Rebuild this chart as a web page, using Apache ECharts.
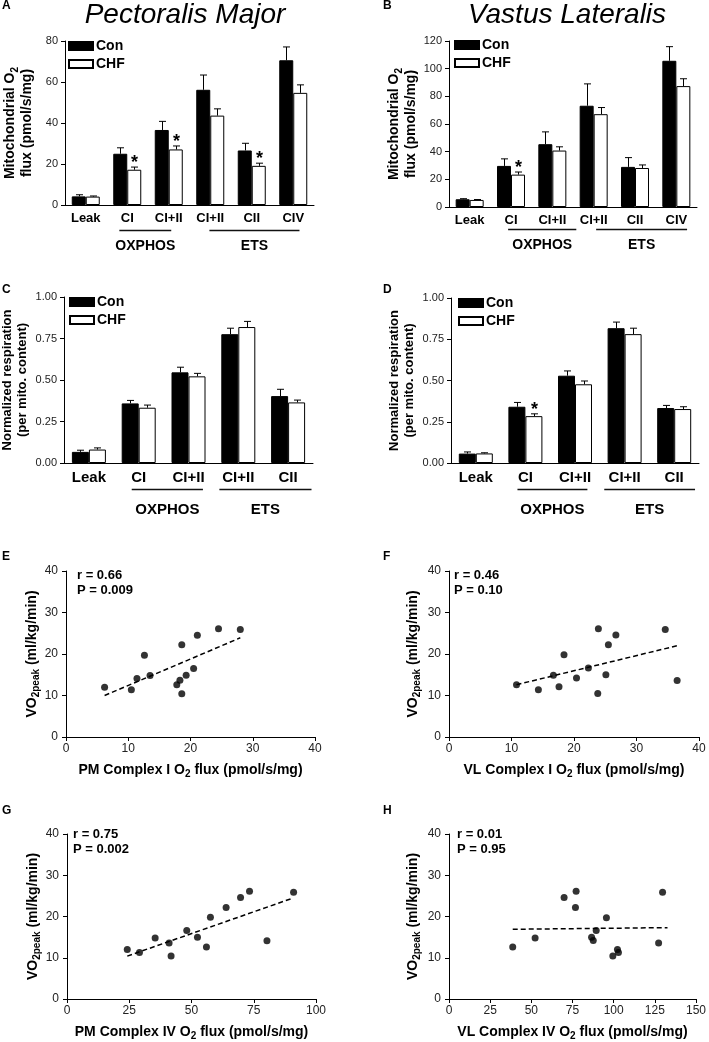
<!DOCTYPE html>
<html>
<head>
<meta charset="utf-8">
<script src="https://cdn.jsdelivr.net/npm/echarts@6/dist/echarts.min.js"></script>
<style>html,body{margin:0;padding:0;background:#fff;}#c{width:709px;height:1042px;}</style>
</head>
<body>
<div id="c"></div>
<script>
// ---------- DATA ----------
const catsAB = ['Leak', 'CI', 'CI+II', 'CI+II', 'CII', 'CIV'];
const catsCD = ['Leak', 'CI', 'CI+II', 'CI+II', 'CII'];

// Panel A: Pectoralis Major, pmol/s/mg
const conA = [4.2, 25.0, 36.6, 56.2, 26.6, 70.6];
const conASem = [0.8, 2.9, 4.2, 7.2, 3.5, 6.5];
const chfA = [4.1, 17.2, 27.1, 43.6, 19.1, 54.7];
const chfASem = [0.3, 1.3, 1.7, 3.3, 1.3, 3.9];
const sigA = [0, 1, 1, 0, 1, 0];

// Panel B: Vastus Lateralis, pmol/s/mg
const conB = [5.6, 29.7, 45.4, 73.2, 29.0, 105.7];
const conBSem = [0.4, 5.1, 8.9, 15.8, 6.7, 10.2];
const chfB = [5.1, 23.4, 40.8, 67.1, 28.2, 87.4];
const chfBSem = [0.3, 1.9, 2.7, 4.8, 2.2, 5.3];
const sigB = [0, 1, 0, 0, 0, 0];

// Panel C: normalized, PM
const conC = [0.067, 0.359, 0.546, 0.776, 0.403];
const conCSem = [0.010, 0.018, 0.031, 0.036, 0.041];
const chfC = [0.081, 0.333, 0.522, 0.819, 0.365];
const chfCSem = [0.010, 0.016, 0.018, 0.034, 0.014];
const sigC = [0, 0, 0, 0, 0];

// Panel D: normalized, VL
const conD = [0.057, 0.341, 0.529, 0.817, 0.333];
const conDSem = [0.010, 0.026, 0.029, 0.037, 0.016];
const chfD = [0.058, 0.284, 0.477, 0.781, 0.327];
const chfDSem = [0.004, 0.014, 0.020, 0.036, 0.014];
const sigD = [0, 1, 0, 0, 0];

// group brackets (in category-index units)
const groupNames = ['OXPHOS', 'ETS'];
const spansA = [[0.81, 2.06], [2.98, 5.15]];
const spansB = [[0.93, 2.58], [3.06, 5.26]];
const spansC = [[0.86, 2.29], [2.62, 4.47]];
const spansD = [[0.84, 2.25], [2.59, 4.42]];

// Scatter panels: [x, VO2peak]
const ptsE = [[6.2,12.0],[10.5,11.4],[11.4,14.1],[12.6,19.7],[13.5,14.8],[17.8,12.6],[18.3,13.7],[18.6,22.2],[18.6,10.4],[19.3,14.9],[20.5,16.5],[21.1,24.5],[24.5,26.1],[28.0,25.9]];
const trendE = [[6.2,10.0],[28.0,23.9]];
const ptsF = [[10.8,12.6],[14.3,11.4],[16.7,14.9],[17.6,12.1],[18.4,19.8],[20.4,14.2],[22.3,16.6],[23.9,26.1],[23.8,10.5],[25.1,15.0],[25.5,22.2],[26.7,24.6],[34.6,25.9],[36.5,13.6]];
const trendF = [[10.8,12.6],[36.8,22.1]];
const ptsG = [[24.2,12.0],[29.1,11.3],[35.4,14.8],[41.0,13.6],[41.8,10.4],[48.1,16.6],[52.4,15.0],[56.0,12.6],[57.6,19.8],[63.9,22.2],[69.7,24.6],[73.3,26.1],[80.3,14.1],[91.0,25.9]];
const trendG = [[24.2,10.4],[90.9,24.5]];
const ptsH = [[38.7,12.6],[52.3,14.8],[69.9,24.6],[77.2,26.1],[76.8,22.2],[86.6,15.0],[87.6,14.2],[89.4,16.6],[95.6,19.7],[99.5,10.4],[102.3,12.0],[102.9,11.3],[127.3,13.6],[129.7,25.9]];
const trendH = [[38.7,16.9],[132.7,17.3]];

const statsE = ['r = 0.66', 'P = 0.009'];
const statsF = ['r = 0.46', 'P = 0.10'];
const statsG = ['r = 0.75', 'P = 0.002'];
const statsH = ['r = 0.01', 'P = 0.95'];

// ---------- STYLE / LAYOUT ----------
const F = '"Liberation Sans", Arial, Helvetica, sans-serif';

function rich(fs, lh) {
  return {
    b: { fontFamily: F, fontSize: fs, fontWeight: 'bold', color: '#000', lineHeight: lh || fs + 2, verticalAlign: 'top' },
    s: { fontFamily: F, fontSize: Math.round(fs * 0.7), fontWeight: 'bold', color: '#000',
         lineHeight: Math.round(fs * 0.7), padding: [Math.round(fs * 0.6), 0, 0, 0], verticalAlign: 'bottom' }
  };
}

const grids = [
  { left: 65, top: 41, width: 249, height: 164 },   // A
  { left: 449, top: 41, width: 248, height: 166 },  // B
  { left: 64, top: 297, width: 249, height: 166 },  // C
  { left: 451, top: 298, width: 248, height: 165 }, // D
  { left: 66, top: 571, width: 249, height: 166 },  // E
  { left: 449, top: 571, width: 250, height: 166 }, // F
  { left: 67, top: 834, width: 249, height: 166 },  // G
  { left: 449, top: 834, width: 250, height: 166 }  // H
];

const axLine = { show: true, lineStyle: { color: '#000', width: 1 } };
const axTick = { show: true, length: 4, lineStyle: { color: '#000', width: 1 } };

function catAxis(idx, cats, fs) {
  return { type: 'category', gridIndex: idx, data: cats, axisLine: axLine, axisTick: { show: false },
    axisLabel: { interval: 0, fontFamily: F, fontSize: fs, fontWeight: 'bold', color: '#000', margin: 7 },
    splitLine: { show: false } };
}
function valAxisY(idx, max, interval, fmt, name, nameFs, gap, lh) {
  return { type: 'value', gridIndex: idx, min: 0, max: max, interval: interval,
    axisLine: axLine, axisTick: axTick,
    axisLabel: { fontFamily: F, fontSize: 11, color: '#222', margin: 7, formatter: fmt },
    splitLine: { show: false },
    name: name, nameLocation: 'middle', nameRotate: 90, nameGap: gap,
    nameTextStyle: { rich: rich(nameFs, lh), align: 'center' } };
}
function valAxisX(idx, max, interval, name) {
  return { type: 'value', gridIndex: idx, min: 0, max: max, interval: interval,
    axisLine: axLine, axisTick: axTick,
    axisLabel: { fontFamily: F, fontSize: 12, color: '#222', margin: 6 },
    splitLine: { show: false },
    name: name, nameLocation: 'middle', nameGap: 26,
    nameTextStyle: { rich: rich(14) } };
}

const xAxes = [], yAxes = [], series = [];

function barPanel(idx, cats, con, conSem, chf, chfSem, sig, bw, spans, drop, tgap, gfs) {
  series.push({ type: 'bar', name: 'Con', xAxisIndex: idx, yAxisIndex: idx, data: con, barWidth: bw, barGap: '0%',
    itemStyle: { color: '#000', borderColor: '#000', borderWidth: 1 }, silent: true });
  series.push({ type: 'bar', name: 'CHF', xAxisIndex: idx, yAxisIndex: idx, data: chf, barWidth: bw, barGap: '0%',
    itemStyle: { color: '#fff', borderColor: '#000', borderWidth: 1 }, silent: true });
  [[con, conSem, null, -1], [chf, chfSem, sig, 1]].forEach(([vals, sems, sg, side]) => {
    series.push({ type: 'custom', xAxisIndex: idx, yAxisIndex: idx, z: 5, silent: true,
      data: vals.map((v, i) => [i, v, v + sems[i], sg ? sg[i] : 0]),
      renderItem: function (params, api) {
        const top = api.coord([api.value(0), api.value(2)]);
        const base = api.coord([api.value(0), api.value(1)]);
        const x = Math.round(top[0] + side * bw / 2) + 0.5;
        const ch = [
          { type: 'line', shape: { x1: x, y1: base[1], x2: x, y2: top[1] }, style: { stroke: '#000', lineWidth: 1 } },
          { type: 'line', shape: { x1: x - 3.5, y1: top[1], x2: x + 3.5, y2: top[1] }, style: { stroke: '#000', lineWidth: 1 } }
        ];
        if (api.value(3)) {
          ch.push({ type: 'text', x: x, y: top[1] - 4,
            style: { text: '*', fontFamily: F, fontSize: 18, fontWeight: 'bold', fill: '#000',
              align: 'center', verticalAlign: 'middle', textAlign: 'center', textVerticalAlign: 'middle' } });
        }
        return { type: 'group', children: ch };
      } });
  });
  series.push({ type: 'custom', xAxisIndex: idx, yAxisIndex: idx, clip: false, silent: true, z: 5,
    data: groupNames.map((n, k) => [0, 0]),
    renderItem: function (params, api) {
      const k = params.dataIndex;
      const c0 = api.coord([0, 0]);
      const band = api.size([1, 0])[0];
      const x1 = c0[0] + spans[k][0] * band, x2 = c0[0] + spans[k][1] * band;
      const y = Math.round(c0[1] + drop) + 0.5;
      return { type: 'group', children: [
        { type: 'line', shape: { x1: x1, y1: y, x2: x2, y2: y }, style: { stroke: '#111', lineWidth: 1.5 } },
        { type: 'text', x: (x1 + x2) / 2, y: y + tgap,
          style: { text: groupNames[k], fontFamily: F, fontSize: gfs, fontWeight: 'bold', fill: '#000',
            align: 'center', verticalAlign: 'middle', textAlign: 'center', textVerticalAlign: 'middle' } }
      ] };
    } });
}

function scatterPanel(idx, pts, trend) {
  series.push({ type: 'scatter', xAxisIndex: idx, yAxisIndex: idx, data: pts, symbolSize: 7,
    itemStyle: { color: '#000' }, silent: true, z: 3 });
  series.push({ type: 'line', xAxisIndex: idx, yAxisIndex: idx, data: trend, symbol: 'none', silent: true,
    lineStyle: { color: '#000', width: 1.5, type: [5, 3] }, z: 2 });
}

const nameFlux = '{b|Mitochondrial O}{s|2}\n{b|flux (pmol/s/mg)}';
const nameNorm = '{b|Normalized respiration}\n{b|(per mito. content)}';
const nameVO2 = '{b|VO}{s|2peak}{b| (ml/kg/min)}';
const fmt2 = v => v.toFixed(2);

// A
xAxes.push(catAxis(0, catsAB, 13));
yAxes.push(valAxisY(0, 80, 20, null, nameFlux, 14, 28, 17));
barPanel(0, catsAB, conA, conASem, chfA, chfASem, sigA, 14, spansA, 25, 16, 14);
// B
xAxes.push(catAxis(1, catsAB, 13));
yAxes.push(valAxisY(1, 120, 20, null, nameFlux, 14, 28, 17));
barPanel(1, catsAB, conB, conBSem, chfB, chfBSem, sigB, 14, spansB, 22, 16, 14);
// C
xAxes.push(catAxis(2, catsCD, 15));
yAxes.push(valAxisY(2, 1, 0.25, fmt2, nameNorm, 13, 33, 15));
barPanel(2, catsCD, conC, conCSem, chfC, chfCSem, sigC, 17, spansC, 26, 20, 15);
// D
xAxes.push(catAxis(3, catsCD, 15));
yAxes.push(valAxisY(3, 1, 0.25, fmt2, nameNorm, 13, 33, 15));
barPanel(3, catsCD, conD, conDSem, chfD, chfDSem, sigD, 17, spansD, 26, 20, 15);
// E
xAxes.push(valAxisX(4, 40, 10, '{b|PM Complex I O}{s|2}{b| flux (pmol/s/mg)}'));
yAxes.push(valAxisY(4, 40, 10, null, nameVO2, 14, 24));
scatterPanel(4, ptsE, trendE);
// F
xAxes.push(valAxisX(5, 40, 10, '{b|VL Complex I O}{s|2}{b| flux (pmol/s/mg)}'));
yAxes.push(valAxisY(5, 40, 10, null, nameVO2, 14, 27));
scatterPanel(5, ptsF, trendF);
// G
xAxes.push(valAxisX(6, 100, 25, '{b|PM Complex IV O}{s|2}{b| flux (pmol/s/mg)}'));
yAxes.push(valAxisY(6, 40, 10, null, nameVO2, 14, 25));
scatterPanel(6, ptsG, trendG);
// H
xAxes.push(valAxisX(7, 150, 25, '{b|VL Complex IV O}{s|2}{b| flux (pmol/s/mg)}'));
yAxes.push(valAxisY(7, 40, 10, null, nameVO2, 14, 27));
scatterPanel(7, ptsH, trendH);

// scatter y tick labels slightly larger
[4, 5, 6, 7].forEach(i => { yAxes[i].axisLabel.fontSize = 12; yAxes[i].axisLabel.margin = 8; });

function legendAt(left, top) {
  return { data: ['Con', 'CHF'], orient: 'vertical', left: left, top: top, itemWidth: 24, itemHeight: 8,
    itemGap: 4, icon: 'rect', selectedMode: false, padding: 0,
    textStyle: { fontFamily: F, fontSize: 14, fontWeight: 'bold', color: '#000', lineHeight: 14, padding: [0, 0, 0, -2] } };
}

function txt(x, y, text, fs, weight, style, align) {
  return { type: 'text', x: x, y: y, silent: true,
    style: { text: text, fontFamily: F, fontSize: fs, fontWeight: weight, fontStyle: style || 'normal', fill: '#000',
      align: align || 'left', verticalAlign: 'middle', textAlign: align || 'left', textVerticalAlign: 'middle' } };
}

const graphics = [
  txt(2, 6, 'A', 12, 'bold'), txt(383, 6, 'B', 12, 'bold'),
  txt(2, 290, 'C', 12, 'bold'), txt(383, 290, 'D', 12, 'bold'),
  txt(2, 557, 'E', 12, 'bold'), txt(383, 557, 'F', 12, 'bold'),
  txt(2, 811, 'G', 12, 'bold'), txt(383, 811, 'H', 12, 'bold'),
  txt(185, 15, 'Pectoralis Major', 28, 'normal', 'italic', 'center'),
  txt(567, 15, 'Vastus Lateralis', 28, 'normal', 'italic', 'center'),
  txt(77, 575, statsE[0], 13, 'bold'), txt(77, 590, statsE[1], 13, 'bold'),
  txt(454, 575, statsF[0], 13, 'bold'), txt(454, 590, statsF[1], 13, 'bold'),
  txt(73, 834, statsG[0], 13, 'bold'), txt(73, 849, statsG[1], 13, 'bold'),
  txt(457, 834, statsH[0], 13, 'bold'), txt(457, 849, statsH[1], 13, 'bold')
];

const chart = echarts.init(document.getElementById('c'), null, { renderer: 'canvas' });
chart.setOption({
  animation: false,
  backgroundColor: '#fff',
  textStyle: { fontFamily: F },
  grid: grids,
  xAxis: xAxes,
  yAxis: yAxes,
  legend: [legendAt(68, 39), legendAt(454, 38), legendAt(69, 295), legendAt(458, 296)],
  graphic: graphics,
  series: series
});
</script>
</body>
</html>
